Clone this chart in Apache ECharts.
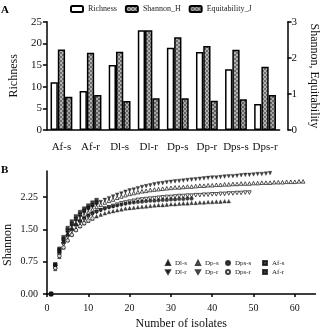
<!DOCTYPE html>
<html>
<head>
<meta charset="utf-8">
<script src="https://cdn.jsdelivr.net/npm/echarts@6/dist/echarts.min.js"></script>
<style>
html, body { margin: 0; padding: 0; background: #fff; }
#main { width: 328px; height: 331px; }
</style>
</head>
<body>
<div id="main"></div>
<script>
// panel A - diversity per group
var groups = ['Af-s', 'Af-r', 'Dl-s', 'Dl-r', 'Dp-s', 'Dp-r', 'Dps-s', 'Dps-r'];
var richness = [11, 9, 15, 23, 19, 18, 14, 6];
var shannonH = [2.23, 2.14, 2.17, 2.76, 2.57, 2.33, 2.22, 1.75];
var equitJ = [0.92, 0.97, 0.80, 0.88, 0.88, 0.81, 0.85, 0.97];

// panel B - rarefaction curves, value at 1,2,3... isolates
var dlS = [0, 0.58, 0.86, 1.08, 1.25, 1.38, 1.49, 1.57, 1.64, 1.70, 1.75, 1.80, 1.84, 1.87, 1.90, 1.92, 1.94, 1.96, 1.98, 1.99,
  2.00, 2.01, 2.02, 2.03, 2.04, 2.05, 2.06, 2.06, 2.07, 2.08, 2.08, 2.09, 2.10, 2.10, 2.11, 2.11, 2.12, 2.12, 2.13, 2.13,
  2.14, 2.14, 2.15, 2.15];
var dlR = [0, 0.66, 0.98, 1.22, 1.42, 1.57, 1.69, 1.79, 1.88, 1.96, 2.02, 2.08, 2.13, 2.18, 2.22, 2.26, 2.30, 2.33, 2.37, 2.40,
  2.42, 2.45, 2.48, 2.50, 2.52, 2.54, 2.56, 2.57, 2.59, 2.60, 2.61, 2.62, 2.63, 2.64, 2.65, 2.66, 2.67, 2.68, 2.69, 2.70,
  2.70, 2.71, 2.72, 2.73, 2.73, 2.74, 2.75, 2.76, 2.76, 2.77, 2.78, 2.78, 2.79, 2.80];
var dpS = [0, 0.64, 0.96, 1.20, 1.38, 1.52, 1.63, 1.73, 1.82, 1.89, 1.96, 2.02, 2.07, 2.12, 2.16, 2.19, 2.23, 2.26, 2.29, 2.32,
  2.34, 2.36, 2.38, 2.39, 2.41, 2.42, 2.43, 2.44, 2.45, 2.46, 2.47, 2.47, 2.48, 2.49, 2.49, 2.50, 2.51, 2.51, 2.52, 2.52,
  2.53, 2.53, 2.54, 2.54, 2.55, 2.55, 2.56, 2.56, 2.56, 2.57, 2.57, 2.58, 2.58, 2.58, 2.59, 2.59, 2.59, 2.60, 2.60, 2.60,
  2.61, 2.61];
var dpR = [0, 0.62, 0.92, 1.15, 1.32, 1.45, 1.56, 1.65, 1.72, 1.79, 1.85, 1.90, 1.94, 1.98, 2.01, 2.04, 2.07, 2.10, 2.12, 2.14,
  2.16, 2.18, 2.19, 2.20, 2.21, 2.22, 2.23, 2.24, 2.25, 2.25, 2.26, 2.27, 2.27, 2.28, 2.28, 2.29, 2.29, 2.30, 2.30, 2.31,
  2.31, 2.32, 2.32, 2.33, 2.33, 2.34, 2.34, 2.35, 2.35];
var dpsS = [0, 0.66, 0.97, 1.20, 1.37, 1.50, 1.61, 1.69, 1.76, 1.82, 1.87, 1.91, 1.95, 1.98, 2.01, 2.03, 2.05, 2.07, 2.09, 2.11,
  2.12, 2.13, 2.14, 2.15, 2.16, 2.16, 2.17, 2.18, 2.18, 2.19, 2.19, 2.20, 2.20, 2.21, 2.21];
var dpsR = [0, 0.60, 0.88, 1.08, 1.24, 1.37, 1.48, 1.57, 1.64, 1.70, 1.75];
var afS = [0, 0.69, 1.05, 1.32, 1.53, 1.68, 1.80, 1.90, 1.98, 2.05, 2.12, 2.18];
var afR = [0, 0.68, 1.02, 1.27, 1.47, 1.62, 1.74, 1.84, 1.93, 2.00, 2.06, 2.12];

var xTicks = [0, 10, 20, 30, 40, 50, 60];
var yTicks = [0, 0.75, 1.5, 2.25];

var serif = 'Liberation Serif';

function hatch(bg, fg) {
    var c = document.createElement('canvas');
    c.width = 4;
    c.height = 4;
    var g = c.getContext('2d');
    g.fillStyle = bg;
    g.fillRect(0, 0, 4, 4);
    g.fillStyle = fg;
    g.fillRect(0, 0, 2, 2);
    g.fillRect(2, 2, 2, 2);
    return c;
}

function pts(arr) {
    return arr.map(function (v, i) { return [i + 1, v]; });
}

var downTri = 'path://M0,0 L10,0 L5,9 Z';

function curve(name, data, symbol, filled) {
    return {
        name: name,
        type: 'scatter',
        xAxisIndex: 1,
        yAxisIndex: 2,
        symbol: symbol,
        symbolSize: 3.6,
        data: pts(data),
        itemStyle: filled
            ? { color: '#111', borderColor: '#111', borderWidth: 0.4 }
            : { color: '#fff', borderColor: '#111', borderWidth: 0.9 }
    };
}

var axisBlack = { color: '#000', width: 1.5 };

function bLegend(names, left) {
    return {
        data: names,
        orient: 'vertical',
        left: left,
        top: 259,
        padding: 0,
        itemGap: 1,
        itemWidth: 4,
        itemHeight: 4,
        textStyle: { fontSize: 7, fontFamily: serif, color: '#222', lineHeight: 8 }
    };
}

var dom = document.getElementById('main');
var myChart = echarts.init(dom);
var option = {
    animation: false,
    title: [
        { text: 'A', left: 1, top: 5, padding: 0, textStyle: { fontSize: 11, fontWeight: 'bold', fontFamily: serif, color: '#000' } },
        { text: 'B', left: 1, top: 165, padding: 0, textStyle: { fontSize: 11, fontWeight: 'bold', fontFamily: serif, color: '#000' } }
    ],
    legend: [
        {
            data: ['Richness', 'Shannon_H', 'Equitability_J'],
            left: 70,
            top: 5,
            padding: 0,
            itemWidth: 12,
            itemHeight: 6,
            itemGap: 8,
            textStyle: { fontSize: 8, fontFamily: serif, color: '#222' }
        },
        bLegend(['Dl-s', 'Dl-r'], 165),
        bLegend(['Dp-s', 'Dp-r'], 195),
        bLegend(['Dps-s', 'Dps-r'], 225),
        bLegend(['Af-s', 'Af-r'], 262)
    ],
    grid: [
        { left: 37, right: 42, top: 21.7, bottom: 201 },
        { left: 47, right: 12.5, top: 171, bottom: 31 }
    ],
    xAxis: [
        {
            type: 'category',
            gridIndex: 0,
            data: groups,
            offset: 7,
            axisLine: { lineStyle: axisBlack },
            axisTick: { alignWithLabel: true, length: 3, lineStyle: axisBlack },
            axisLabel: { interval: 0, fontSize: 11, fontFamily: serif, color: '#111', margin: 5 }
        },
        {
            type: 'value',
            gridIndex: 1,
            min: 0,
            max: 65,
            offset: 5,
            name: 'Number of isolates',
            nameLocation: 'middle',
            nameGap: 19,
            nameTextStyle: { fontSize: 12, fontFamily: serif, color: '#111' },
            splitLine: { show: false },
            axisLine: { lineStyle: axisBlack },
            axisTick: { length: 3, lineStyle: axisBlack, customValues: xTicks },
            axisLabel: { fontSize: 10, fontFamily: serif, color: '#111', margin: 4, customValues: xTicks }
        }
    ],
    yAxis: [
        {
            type: 'value',
            gridIndex: 0,
            min: 0,
            max: 25,
            interval: 5,
            position: 'left',
            name: 'Richness',
            nameLocation: 'middle',
            nameGap: 23,
            nameTextStyle: { fontSize: 12, fontFamily: serif, color: '#111' },
            splitLine: { show: false },
            axisLine: { show: true, lineStyle: axisBlack },
            axisTick: { show: true, length: 4, lineStyle: axisBlack },
            axisLabel: { fontSize: 11, fontFamily: serif, color: '#111', margin: 5 }
        },
        {
            type: 'value',
            gridIndex: 0,
            min: 0,
            max: 3,
            interval: 1,
            position: 'right',
            offset: 8,
            name: 'Shannon, Equitability',
            nameLocation: 'middle',
            nameRotate: -90,
            nameGap: 18,
            nameTextStyle: { fontSize: 12, fontFamily: serif, color: '#111' },
            splitLine: { show: false },
            axisLine: { show: true, lineStyle: axisBlack },
            axisTick: { show: true, length: 4, lineStyle: axisBlack },
            axisLabel: { fontSize: 11, fontFamily: serif, color: '#111', margin: 4 }
        },
        {
            type: 'value',
            gridIndex: 1,
            min: 0,
            max: 2.85,
            offset: 6,
            splitLine: { show: false },
            axisLine: { show: true, lineStyle: axisBlack },
            axisTick: { show: true, length: 4, lineStyle: axisBlack, customValues: yTicks },
            axisLabel: {
                fontSize: 10, fontFamily: serif, color: '#111', margin: 3, customValues: yTicks,
                formatter: function (v) { return v.toFixed(2); }
            }
        }
    ],
    graphic: [
        {
            type: 'text',
            x: 8,
            y: 245,
            rotation: Math.PI / 2,
            style: { text: 'Shannon', font: '12px "Liberation Serif"', fill: '#111', align: 'center', verticalAlign: 'middle' }
        }
    ],
    series: [
        {
            name: 'Richness', type: 'bar', xAxisIndex: 0, yAxisIndex: 0,
            data: richness, barGap: '0%', barCategoryGap: '25%',
            itemStyle: { color: '#fff', borderColor: '#000', borderWidth: 1.5 }
        },
        {
            name: 'Shannon_H', type: 'bar', xAxisIndex: 0, yAxisIndex: 1,
            data: shannonH, barGap: '0%', barCategoryGap: '25%',
            itemStyle: { color: { image: hatch('#b4b4b4', '#6e6e6e'), repeat: 'repeat' }, borderColor: '#000', borderWidth: 1.5 }
        },
        {
            name: 'Equitability_J', type: 'bar', xAxisIndex: 0, yAxisIndex: 1,
            data: equitJ, barGap: '0%', barCategoryGap: '25%',
            itemStyle: { color: { image: hatch('#a8a8a8', '#626262'), repeat: 'repeat' }, borderColor: '#000', borderWidth: 1.5 }
        },
        curve('Dl-s', dlS, 'triangle', true),
        curve('Dl-r', dlR, downTri, true),
        curve('Dp-s', dpS, 'triangle', false),
        curve('Dp-r', dpR, downTri, false),
        curve('Dps-s', dpsS, 'circle', true),
        curve('Dps-r', dpsR, 'circle', false),
        curve('Af-s', afS, 'rect', true),
        curve('Af-r', afR, 'rect', true)
    ]
};
myChart.setOption(option);
</script>
</body>
</html>
